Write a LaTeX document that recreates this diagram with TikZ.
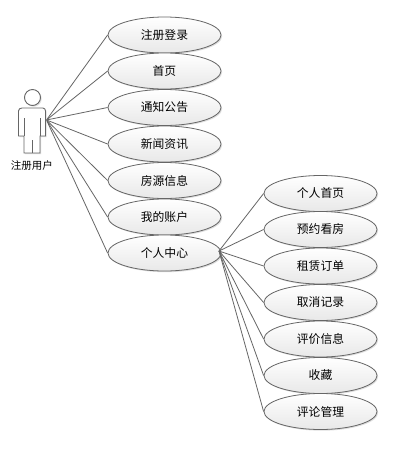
\documentclass[tikz,border=0pt]{standalone}
\usepackage{fontspec}
\newfontfamily\cjk{Noto Sans CJK SC}
\usetikzlibrary{shadows,shapes.geometric}
\tikzset{
  usecase/.style={ellipse,draw=black!60,line width=0.8pt,minimum width=113pt,minimum height=36pt,inner sep=0pt,
    top color=white,bottom color=black!9,drop shadow={shadow xshift=1.2pt,shadow yshift=-1.2pt,fill=black!25,opacity=.5},
    font=\cjk\fontsize{11.8}{13}\selectfont,text=black},
  link/.style={draw=black!60,line width=0.8pt},
  actorline/.style={draw=black!60,line width=0.9pt,fill=white,drop shadow={shadow xshift=1.2pt,shadow yshift=-1.2pt,fill=black!25,opacity=.5}}
}
\begin{document}
\begin{tikzpicture}[x=1pt,y=-1pt]
\useasboundingbox (0,0) rectangle (402,451);
\fill[white] (0,0) rectangle (402,451);
\coordinate (actorhub) at (46.5,120);
\coordinate (centerhub) at (219,251);
\foreach \n/\y/\t in {a/35/注册登录,b/71/首页,c/107.5/通知公告,d/144/新闻资讯,e/180.5/房源信息,f/217/我的账户,g/253/个人中心}{
  \node[usecase] (\n) at (164.5,\y) {\t};
  \path[link] (actorhub) -- (\n.west);
}
\foreach \n/\y/\t in {p/193.5/个人首页,q/229.5/预约看房,r/266/租赁订单,s/302.5/取消记录,t/339/评价信息,u/375.5/收藏,v/411.5/评论管理}{
  \node[usecase] (\n) at (320.5,\y) {\t};
  \path[link] (centerhub) -- (\n.west);
}
\path[actorline] (32.5,97.5) circle[radius=8];
\path[actorline] (22,108) -- (43,108) to[out=0,in=90] (45.5,111) -- (45.5,136) -- (40,136) -- (40,153) -- (24,153) -- (24,136) -- (18.5,136) -- (18.5,111) to[out=90,in=180] (22,108) -- cycle;
\draw[black!60,line width=0.8pt] (32,140) -- (32,153) (24,118) -- (24,136) (40,118) -- (40,136);
\node[font=\cjk\fontsize{10.5}{12}\selectfont,text=black,inner sep=0pt] (actorlabel) at (32,166) {注册用户};
\end{tikzpicture}
\end{document}
